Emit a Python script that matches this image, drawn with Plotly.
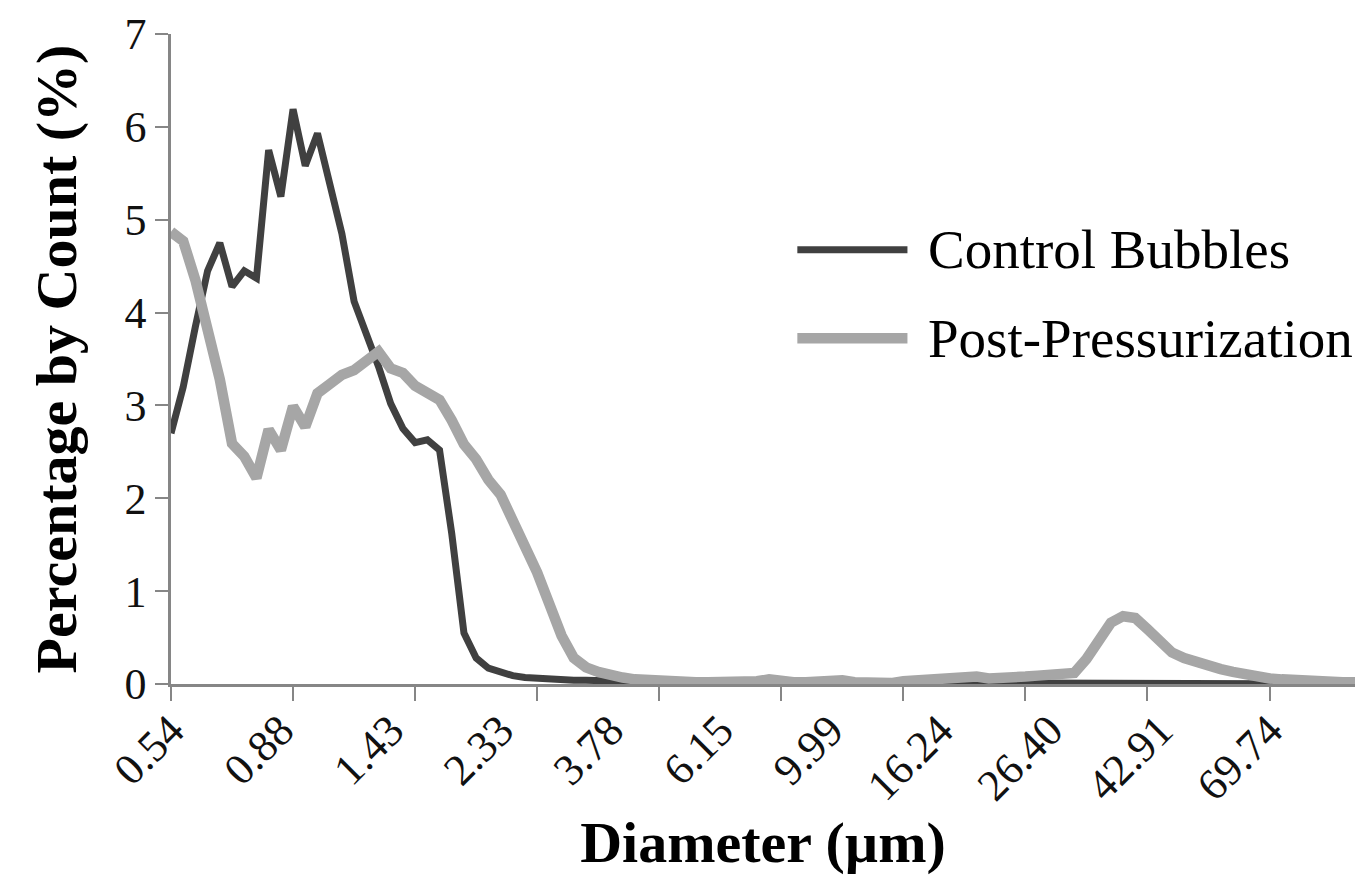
import plotly.graph_objects as go

# ---------------- data ----------------
tick_labels = ["0.54", "0.88", "1.43", "2.33", "3.78", "6.15",
               "9.99", "16.24", "26.40", "42.91", "69.74"]
label_step = 9    # one label every 9 size bins
tick_step = 10    # one tick mark every 10 size bins

control = [
    2.70, 3.20, 3.85, 4.45, 4.75, 4.28, 4.45, 4.37, 5.75, 5.25,   # 0-9
    6.19, 5.58, 5.93, 5.40, 4.85, 4.12, 3.78, 3.42, 3.02, 2.75,   # 10-19
    2.60, 2.63, 2.52, 1.62, 0.55, 0.28, 0.17, 0.12, 0.09, 0.07,   # 20-29
    0.06, 0.05, 0.05, 0.04, 0.04, 0.04, 0.03, 0.03, 0.02, 0.02,   # 30-39
    0.02, 0.02, 0.02, 0.02, 0.02, 0.02, 0.02, 0.02, 0.02, 0.02,   # 40-49
    0.02, 0.02, 0.02, 0.02, 0.02, 0.02, 0.01, 0.01, 0.01, 0.01,   # 50-59
    0.01, 0.01, 0.01, 0.01, 0.02, 0.04, 0.03, 0.03, 0.01, 0.01,   # 60-69
    0.01, 0.01, 0.01, 0.01, 0.01, 0.01, 0.01, 0.01, 0.01, 0.01,   # 70-79
    0.01, 0.01, 0.01, 0.01, 0.01, 0.01, 0.01, 0.01, 0.01, 0.01,   # 80-89
    0.01, 0.01, 0.01, 0.00, 0.00, 0.00, 0.00, 0.00,               # 90-97
]

post = [
    4.87, 4.77, 4.35, 3.85, 3.28, 2.59, 2.45, 2.22, 2.74, 2.52,   # 0-9
    2.99, 2.77, 3.13, 3.23, 3.33, 3.38, 3.48, 3.58, 3.40, 3.35,   # 10-19
    3.21, 3.12, 3.06, 2.84, 2.58, 2.42, 2.20, 2.04, 1.78, 1.50,   # 20-29
    1.20, 0.86, 0.52, 0.28, 0.18, 0.13, 0.09, 0.07, 0.05, 0.04,   # 30-39
    0.03, 0.02, 0.02, 0.02, 0.02, 0.02, 0.02, 0.02, 0.03, 0.05,   # 40-49
    0.03, 0.02, 0.02, 0.03, 0.05, 0.04, 0.02, 0.01, 0.00, 0.01,   # 50-59
    0.03, 0.04, 0.05, 0.06, 0.05, 0.06, 0.08, 0.06, 0.06, 0.07,   # 60-69
    0.08, 0.09, 0.10, 0.10, 0.12, 0.27, 0.48, 0.66, 0.73, 0.71,   # 70-79
    0.59, 0.45, 0.34, 0.28, 0.23, 0.19, 0.16, 0.13, 0.10, 0.08,   # 80-89
    0.06, 0.05, 0.04, 0.03, 0.03, 0.02, 0.02, 0.02,               # 90-97
]

series_names = ["Control Bubbles", "Post-Pressurization"]
series_colors = ["#404040", "#a6a6a6"]
series_widths = [7, 10.5]

# ---------------- figure ----------------
x = list(range(len(control)))
label_pos = [i * label_step for i in range(len(tick_labels))]
tick_pos = list(range(0, label_pos[-1] + 1, tick_step))

FONT = "Liberation Serif, Times New Roman, serif"
AXIS_COLOR = "#868686"

fig = go.Figure()
for name, ys, col, w in zip(series_names, [control, post], series_colors, series_widths):
    fig.add_trace(go.Scatter(x=x, y=ys, mode="lines", name=name,
                             line=dict(color=col, width=w), showlegend=False))
# helper trace so the tick-mark axis is drawn
fig.add_trace(go.Scatter(x=[], y=[], xaxis="x2", showlegend=False, hoverinfo="skip"))

fig.update_layout(
    width=1363, height=882,
    margin=dict(l=171, r=8, t=34, b=198),
    paper_bgcolor="white", plot_bgcolor="white",
    font=dict(family=FONT, color="black"),
    xaxis=dict(
        range=[0, len(control) - 1],
        tickmode="array", tickvals=label_pos, ticktext=tick_labels,
        ticks="", tickangle=-45, tickfont=dict(size=44, family=FONT, color="#111111"),
        showline=True, linecolor=AXIS_COLOR, linewidth=2.5,
        showgrid=False, zeroline=False,
        title=dict(text="<b>Diameter (µm)</b>", font=dict(size=58, family=FONT, color="black"),
                   standoff=8),
    ),
    xaxis2=dict(
        overlaying="x", anchor="y", side="bottom",
        range=[0, len(control) - 1],
        tickmode="array", tickvals=tick_pos,
        ticks="outside", ticklen=16, tickwidth=2, tickcolor=AXIS_COLOR,
        showticklabels=False, showline=False, showgrid=False, zeroline=False,
    ),
    yaxis=dict(
        range=[0, 7], dtick=1, tick0=0,
        ticks="outside", ticklen=13, tickwidth=2, tickcolor=AXIS_COLOR,
        tickfont=dict(size=44, family=FONT, color="#111111"),
        showline=True, linecolor=AXIS_COLOR, linewidth=2.5,
        showgrid=False, zeroline=False,
        title=dict(text="<b>Percentage by Count (%)</b>", font=dict(size=58, family=FONT, color="black"),
                   standoff=30),
    ),
)

# legend drawn inside the plot area, as in the reference
legend_y = [0.668, 0.532]
for name, col, w, yy in zip(series_names, series_colors, series_widths, legend_y):
    fig.add_shape(type="line", xref="paper", yref="paper",
                  x0=0.529, x1=0.622, y0=yy, y1=yy,
                  line=dict(color=col, width=w))
    fig.add_annotation(xref="paper", yref="paper", x=0.638, y=yy,
                       text=name, showarrow=False, xanchor="left", yanchor="middle",
                       font=dict(size=55, family=FONT, color="black"))

fig.write_html("out.html")
